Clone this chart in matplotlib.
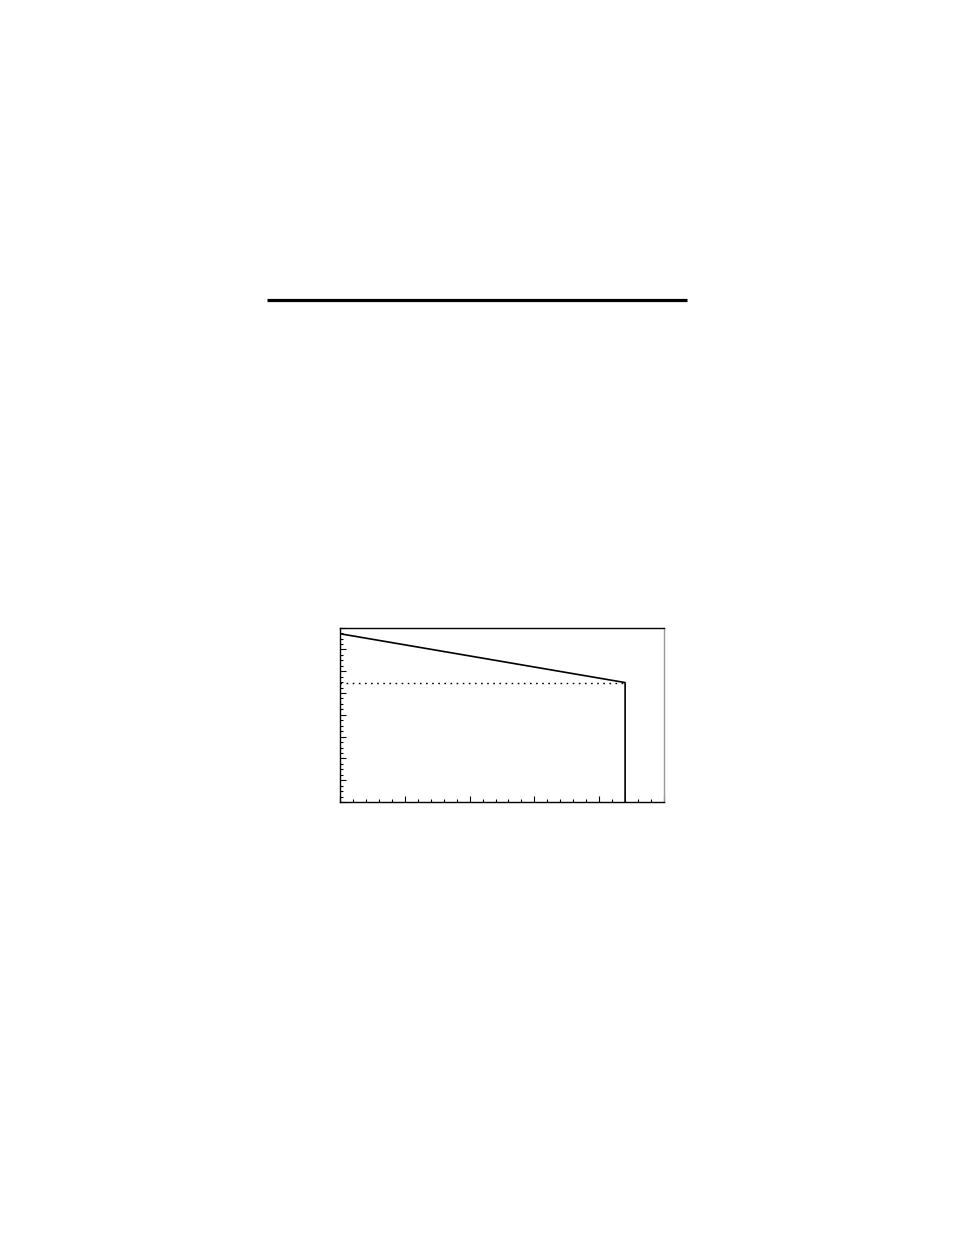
import matplotlib
matplotlib.use("Agg")
import matplotlib.pyplot as plt
from matplotlib.lines import Line2D
from matplotlib.ticker import MultipleLocator

# curve: sloping top, then a sharp drop at the cut-off
curve_x = [0.0, 4.4, 4.4]
curve_y = [7.72, 5.48, 0.0]

# dotted reference level
ref_x = [0.0, 4.4]
ref_y = [5.45, 5.45]

x_limits = [0, 5]
y_limits = [0, 8]

fig = plt.figure(figsize=(9.54, 12.35), dpi=100)

# heavy rule across the page above the chart
fig.add_artist(Line2D([0.2799, 0.7201], [0.7567, 0.7567], color="black",
                      linewidth=2.3, solid_capstyle="butt"))

ax = fig.add_axes([0.3564, 0.3506, 0.3396, 0.1412])
ax.plot(curve_x, curve_y, color="black", linewidth=1.2)
ax.plot(ref_x, ref_y, color="black", linewidth=1.0, linestyle=(0, (1.2, 3.2)))

ax.set_xlim(x_limits)
ax.set_ylim(y_limits)

ax.xaxis.set_major_locator(MultipleLocator(1))
ax.xaxis.set_minor_locator(MultipleLocator(0.2))
ax.yaxis.set_major_locator(MultipleLocator(1))
ax.yaxis.set_minor_locator(MultipleLocator(0.25))
ax.tick_params(which="both", direction="in", top=False, right=False,
               labelbottom=False, labelleft=False, width=0.8)
ax.tick_params(which="major", length=4)
ax.tick_params(which="minor", length=2)

for side in ["left", "bottom", "top"]:
    ax.spines[side].set_linewidth(1.0)
ax.spines["right"].set_color("#999999")
ax.spines["right"].set_linewidth(1.0)

fig.savefig("out.png", dpi=100)
